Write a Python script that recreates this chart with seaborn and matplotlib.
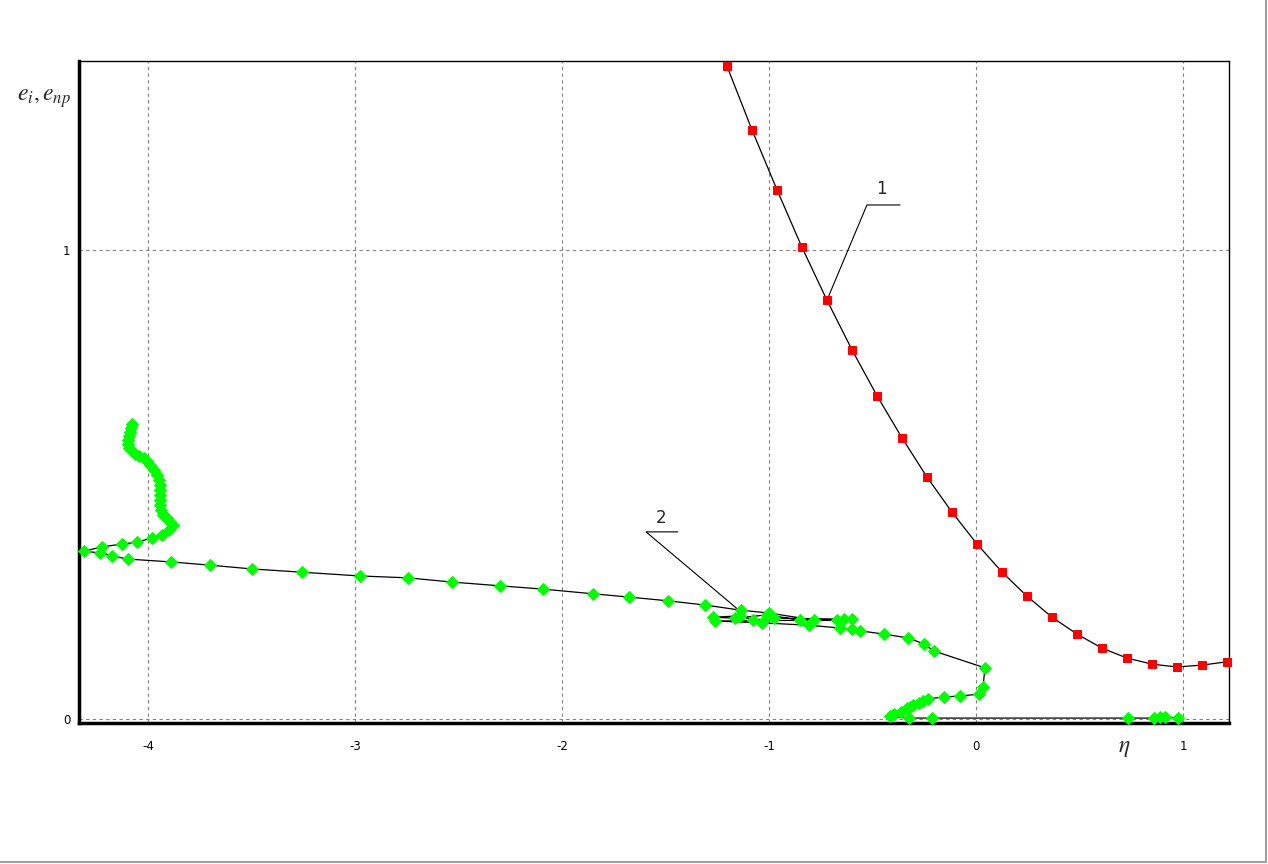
import numpy as np
import matplotlib
matplotlib.use("Agg")
import matplotlib.pyplot as plt
import seaborn as sns
from matplotlib.lines import Line2D
from matplotlib.ticker import MultipleLocator

# ─── Data ────────────────────────────────────────────────────────────────────
eta_1 = [-1.203, -1.082, -0.961, -0.841, -0.720, -0.599, -0.478, -0.357, -0.237,
         -0.116, 0.005, 0.126, 0.246, 0.367, 0.488, 0.609, 0.729, 0.850, 0.971,
         1.092, 1.213]
e_1 = [1.392, 1.256, 1.128, 1.006, 0.893, 0.787, 0.689, 0.599, 0.516,
       0.441, 0.373, 0.313, 0.262, 0.217, 0.181, 0.151, 0.130, 0.117, 0.111,
       0.115, 0.122]

eta_2 = [-4.077, -4.082, -4.087, -4.092, -4.097, -4.097, -4.092, -4.077, -4.063,
         -4.043, -4.019, -4.005, -3.990, -3.971, -3.957, -3.947, -3.942, -3.942,
         -3.942, -3.942, -3.942, -3.937, -3.928, -3.908, -3.894, -3.879, -3.899,
         -3.932, -3.981, -4.053, -4.126, -4.222, -4.309, -4.232, -4.174, -4.097,
         -3.889, -3.700, -3.498, -3.256, -2.976, -2.744, -2.531, -2.300, -2.092,
         -1.850, -1.676, -1.488, -1.309, -1.135,
         -1.000, -0.783, -0.599, -0.638, -0.976, -1.077, -1.140, -1.271, -1.164,
         -1.010, -0.850, -0.671, -1.261, -1.034, -0.807, -0.657, -0.599, -0.560,
         -0.444, -0.329, -0.251, -0.203, 0.043, 0.034, 0.014, -0.077, -0.155,
         -0.232, -0.256, -0.275, -0.304, -0.319, -0.333, -0.362, -0.396, -0.415,
         -0.324, -0.213, 0.734, 0.860, 0.889, 0.913, 0.976]
e_2 = [0.629, 0.620, 0.612, 0.603, 0.595, 0.586, 0.578, 0.571, 0.565,
       0.561, 0.557, 0.550, 0.542, 0.531, 0.520, 0.510, 0.499, 0.488,
       0.478, 0.467, 0.456, 0.446, 0.435, 0.429, 0.420, 0.414, 0.403,
       0.392, 0.386, 0.377, 0.373, 0.367, 0.358, 0.354, 0.348, 0.341,
       0.335, 0.328, 0.320, 0.313, 0.305, 0.301, 0.292, 0.284, 0.277,
       0.267, 0.260, 0.252, 0.243, 0.232,
       0.226, 0.211, 0.213, 0.213, 0.215, 0.211, 0.220, 0.217, 0.215,
       0.222, 0.211, 0.211, 0.209, 0.205, 0.200, 0.194, 0.192, 0.188,
       0.181, 0.173, 0.160, 0.145, 0.109, 0.068, 0.053, 0.049, 0.047,
       0.043, 0.038, 0.034, 0.030, 0.026, 0.023, 0.015, 0.011, 0.006,
       0.002, 0.002, 0.002, 0.002, 0.004, 0.004, 0.002]

# callout labels: (text, label xy, elbow start, elbow end, target)
callouts = [
    ("1", (-0.455, 1.13), (-0.527, 1.096), (-0.367, 1.096), (-0.720, 0.893)),
    ("2", (-1.52, 0.428), (-1.594, 0.399), (-1.440, 0.399), (-1.140, 0.230)),
]

# ─── Figure ──────────────────────────────────────────────────────────────────
sns.set_style("white")
plt.rcParams["font.family"] = ["DejaVu Sans"]
plt.rcParams["mathtext.fontset"] = "stix"

fig = plt.figure(figsize=(12.68, 8.64), dpi=100)
ax = fig.add_axes([79 / 1268, 141 / 864, 1150 / 1268, 662 / 864])

sns.lineplot(x=eta_1, y=e_1, sort=False, estimator=None, ax=ax, color="black",
             linewidth=0.9, marker="s", markersize=6, markerfacecolor="#ff0000",
             markeredgecolor="#ff0000", clip_on=False, zorder=3)
sns.lineplot(x=eta_2, y=e_2, sort=False, estimator=None, ax=ax, color="black",
             linewidth=0.9, marker="D", markersize=6, markerfacecolor="#00ff00",
             markeredgecolor="#00ff00", clip_on=False, zorder=3)

ax.set_xlim(-4.333, 1.222)
ax.set_ylim(-0.0085, 1.403)

ax.set_xticks([-4, -3, -2, -1, 0, 1])
ax.set_yticks([0, 1])
ax.set_xticklabels(["-4", "-3", "-2", "-1", "0", "1"])
ax.set_yticklabels(["0", "1"])
ax.xaxis.set_minor_locator(MultipleLocator(0.25))
ax.yaxis.set_minor_locator(MultipleLocator(0.25))
ax.tick_params(axis="both", which="major", length=0, labelsize=8.5, pad=12,
               colors="black")
ax.tick_params(axis="x", which="minor", length=3, width=0.8, color="#666666",
               direction="out")
ax.tick_params(axis="y", which="minor", length=2, width=0.8, color="#666666",
               direction="out")
ax.tick_params(axis="y", which="major", pad=6)

ax.grid(True, which="major", linestyle=(0, (3, 3)), color="#808080", linewidth=0.8)
ax.set_axisbelow(True)

for side in ["top", "right"]:
    ax.spines[side].set_visible(True)
    ax.spines[side].set_linewidth(1.0)
    ax.spines[side].set_color("black")
for side in ["left", "bottom"]:
    ax.spines[side].set_linewidth(2.5)
    ax.spines[side].set_color("black")

ax.set_xlabel("")
ax.set_ylabel("")

# callouts
for txt, lxy, p0, p1, tgt in callouts:
    ax.plot([p1[0], p0[0], tgt[0]], [p1[1], p0[1], tgt[1]], color="black",
            linewidth=0.8)
    ax.text(lxy[0], lxy[1], txt, fontsize=12, ha="center", va="center")

# axis titles
fig.text(0.035, 0.887, r"$e_i,e_{np}$", fontsize=17, ha="center", va="center")
fig.text(0.887, 0.135, r"$\eta$", fontsize=17, ha="center", va="center")

# window border of the screenshot
fig.add_artist(Line2D([1266 / 1268, 1266 / 1268], [2 / 864, 1], color="#a0a0a0",
                      linewidth=1.5, transform=fig.transFigure))
fig.add_artist(Line2D([0, 1266 / 1268], [2 / 864, 2 / 864], color="#a0a0a0",
                      linewidth=1.5, transform=fig.transFigure))

fig.savefig("out.png", dpi=100)
